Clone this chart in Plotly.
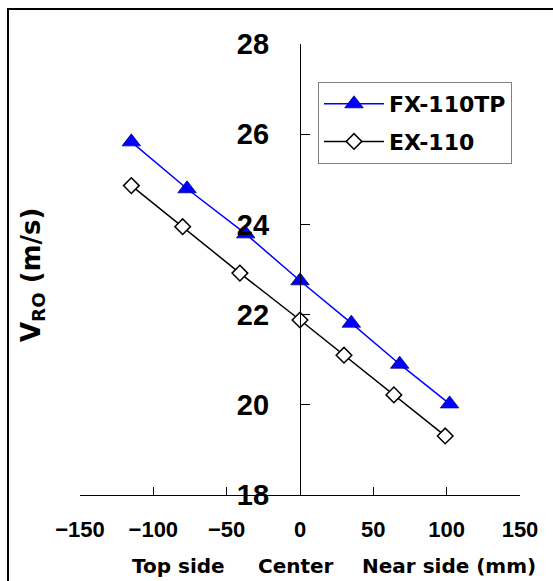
import plotly.graph_objects as go

# ---- data ----
fx_x = [-115, -77, -37, 0, 35, 68, 102]
fx_y = [25.83, 24.79, 23.79, 22.75, 21.81, 20.90, 20.02]
ex_x = [-115, -80, -41, 0, 30, 64, 99]
ex_y = [24.86, 23.95, 22.92, 21.88, 21.10, 20.22, 19.31]
x_ticks = [-150, -100, -50, 0, 50, 100, 150]
y_ticks = [18, 20, 22, 24, 26, 28]
series_names = ["FX-110TP", "EX-110"]

W, H = 553, 581
L, R, T, B = 80, 33, 44, 86
PW, PH = W - L - R, H - T - B

def px(xp):
    return (xp - L) / PW

def py(yp):
    return (H - B - yp) / PH

fig = go.Figure()
fig.add_trace(go.Scatter(
    x=fx_x, y=fx_y, name=series_names[0], mode="lines+markers",
    legendgroup="a",
    line=dict(color="#0000FF", width=1.5),
    marker=dict(symbol="triangle-up", size=16, color="#0000FF",
                line=dict(color="#000080", width=0.8)),
))
fig.add_trace(go.Scatter(
    x=ex_x, y=ex_y, name=series_names[1], mode="lines+markers",
    legendgroup="b",
    line=dict(color="#000000", width=1.5),
    marker=dict(symbol="diamond", size=12, color="#FFFFFF",
                line=dict(color="#000000", width=1.5)),
))

tick_font = dict(family="Liberation Sans, Arial, sans-serif", size=22, color="black", weight="bold")

fig.update_layout(
    width=W, height=H,
    margin=dict(l=L, r=R, t=T, b=B, pad=0),
    paper_bgcolor="white", plot_bgcolor="white",
    showlegend=True,
    legend=dict(
        x=px(318), y=py(82), xanchor="left", yanchor="top",
        bordercolor="#808080", borderwidth=1, bgcolor="white",
        font=dict(family="DejaVu Sans, sans-serif", size=22, color="black", weight="bold"),
        tracegroupgap=6,
        itemwidth=60,
        entrywidth=208,
    ),
    xaxis=dict(
        range=[-150, 150], tickvals=x_ticks,
        showgrid=False, zeroline=False,
        showline=True, linecolor="black", linewidth=1.3,
        ticks="inside", ticklen=8, tickcolor="black", tickwidth=1.3,
        tickfont=tick_font, ticklabelstandoff=14,
    ),
    yaxis=dict(
        range=[18, 28], tickvals=y_ticks,
        anchor="free", position=0.5,
        showgrid=False, zeroline=False,
        showline=True, linecolor="black", linewidth=1.3,
        ticks="inside", ticklen=9, tickcolor="black", tickwidth=1.3,
        tickfont=dict(family="Liberation Sans, Arial, sans-serif", size=29, color="black", weight="bold"),
        ticklabelstandoff=25,
    ),
)

title_font = dict(family="DejaVu Sans, sans-serif", size=20, color="black", weight="bold")
for txt, xl in [("Top side", 130), ("Center", 256), ("Near side (mm)", 360)]:
    fig.add_annotation(text=txt, xref="paper", yref="paper",
                       x=px(xl), y=py(566), xanchor="left", yanchor="middle",
                       showarrow=False, font=title_font)

fig.add_annotation(text="V<sub>RO</sub> (m/s)", xref="paper", yref="paper",
                   x=px(32), y=py(275), xanchor="center", yanchor="middle",
                   textangle=-90, showarrow=False,
                   font=dict(family="DejaVu Sans, sans-serif", size=26, color="black", weight="bold"))

# outer frame (left and top edges visible)
fig.add_shape(type="rect", xref="paper", yref="paper",
              x0=px(8), x1=px(600), y0=py(640), y1=py(9),
              line=dict(color="black", width=2), fillcolor="rgba(0,0,0,0)", layer="above")

fig.write_html("out.html")
